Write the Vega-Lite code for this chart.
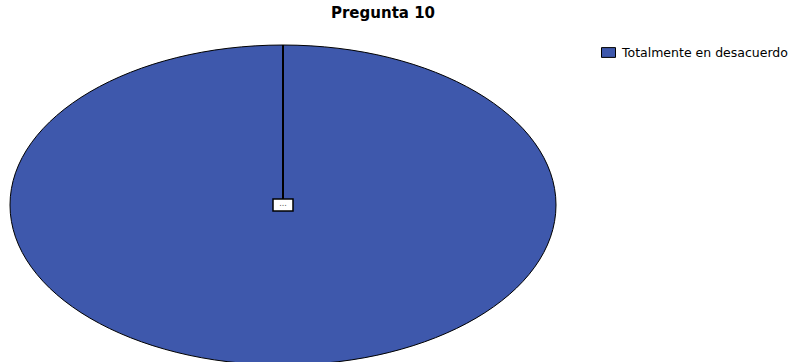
{
  "$schema": "https://vega.github.io/schema/vega-lite/v6.json",
  "autosize": {"type": "none"},
  "padding": {"left": 10, "top": 45, "right": 241, "bottom": 0},
  "width": 546,
  "height": 320,
  "background": "white",
  "config": {"view": {"stroke": null}},
  "title": {
    "text": "Pregunta 10",
    "font": "DejaVu Sans",
    "fontSize": 15,
    "fontWeight": "bold",
    "color": "black",
    "anchor": "middle",
    "frame": "group",
    "dx": 100,
    "offset": 20
  },
  "data": {
    "values": [
      {"respuesta": "Totalmente en desacuerdo", "porcentaje": 100, "etiqueta": "..."}
    ]
  },
  "layer": [
    {
      "mark": {
        "type": "point",
        "shape": "M-1,0A1,0.586 0 1,1 1,0A1,0.586 0 1,1 -1,0Z",
        "size": 298116,
        "filled": true,
        "opacity": 1,
        "stroke": "black",
        "strokeWidth": 1
      },
      "encoding": {
        "color": {
          "field": "respuesta",
          "type": "nominal",
          "scale": {"range": ["#3E58AC"]},
          "legend": {
            "title": null,
            "orient": "right",
            "offset": 45,
            "padding": 0,
            "symbolType": "M-1,-0.7H1V0.7H-1Z",
            "symbolSize": 196,
            "symbolStrokeColor": "black",
            "symbolStrokeWidth": 1,
            "symbolOpacity": 1,
            "labelFont": "DejaVu Sans",
            "labelFontSize": 12.5,
            "labelLimit": 300,
            "labelColor": "black",
            "labelOffset": 6
          }
        }
      }
    },
    {
      "mark": {
        "type": "point",
        "shape": "M0,0L0,-1",
        "size": 102400,
        "filled": false,
        "opacity": 1,
        "stroke": "black",
        "strokeWidth": 2
      },
      "encoding": {}
    },
    {
      "mark": {
        "type": "point",
        "shape": "M-1,-0.6H1V0.6H-1Z",
        "size": 400,
        "filled": true,
        "fill": "white",
        "opacity": 1,
        "stroke": "black",
        "strokeWidth": 1.5
      },
      "encoding": {}
    },
    {
      "mark": {
        "type": "text",
        "font": "DejaVu Sans",
        "fontSize": 8,
        "color": "#555555",
        "baseline": "middle",
        "align": "center",
        "dy": -1
      },
      "encoding": {"text": {"field": "etiqueta"}}
    }
  ]
}
